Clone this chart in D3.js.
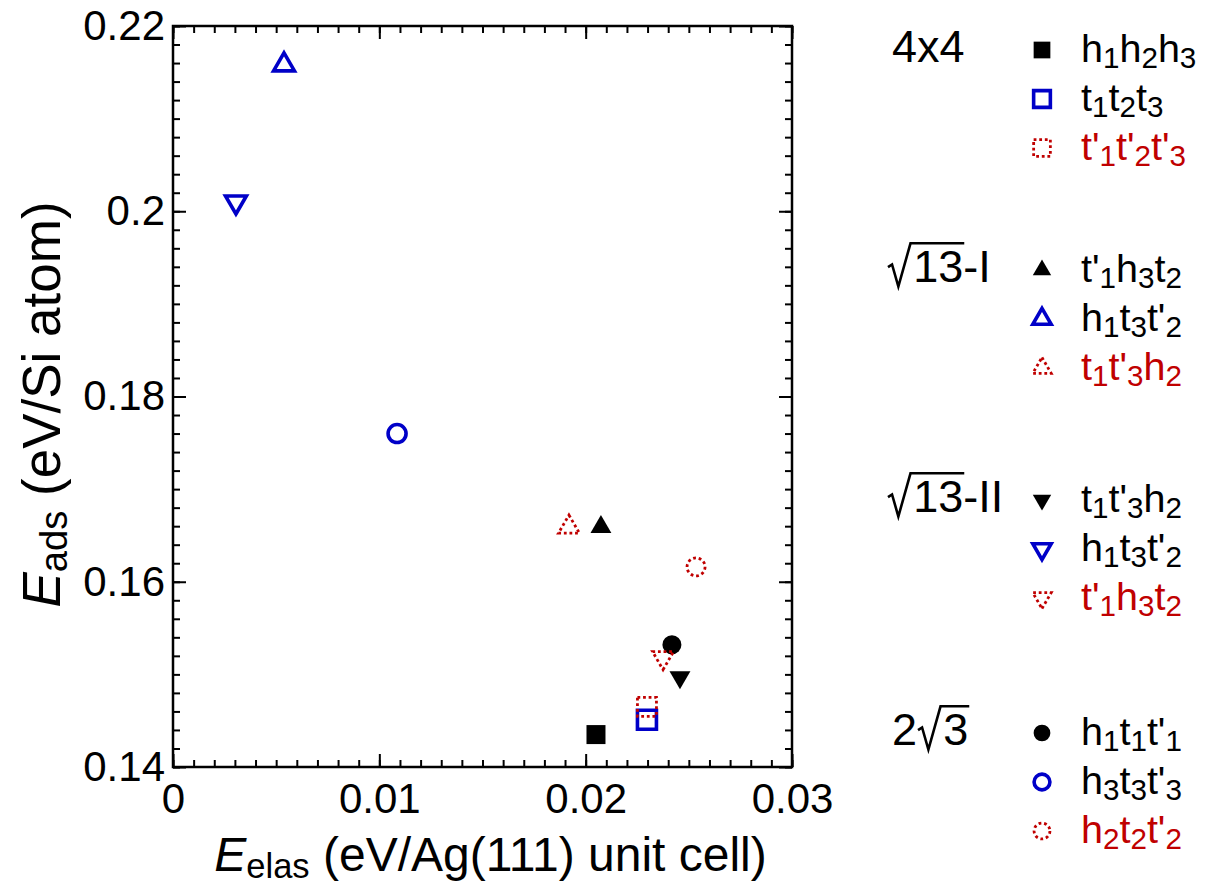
<!DOCTYPE html>
<html>
<head>
<meta charset="utf-8">
<script src="https://cdn.jsdelivr.net/npm/d3@7/dist/d3.min.js"></script>
<style>
  body { margin: 0; background: #fff; }
  svg { font-family: "Liberation Sans", Arial, sans-serif; }
</style>
</head>
<body>
<div id="chart"></div>
<script>
(function() {
  'use strict';

  // ---- data ----
  var groupLabels = ['4x4', '\u221A13-I', '\u221A13-II', '2\u221A3'];
  var seriesNames = [
    'h_1h_2h_3', 't_1t_2t_3', "t'_1t'_2t'_3",
    "t'_1h_3t_2", "h_1t_3t'_2", "t_1t'_3h_2",
    "t_1t'_3h_2", "h_1t_3t'_2", "t'_1h_3t_2",
    "h_1t_1t'_1", "h_3t_3t'_3", "h_2t_2t'_2"
  ];
  var seriesGroup = [0, 0, 0, 1, 1, 1, 2, 2, 2, 3, 3, 3];
  var seriesShape = ['square', 'square', 'square',
    'triUp', 'triUp', 'triUp',
    'triDown', 'triDown', 'triDown',
    'circle', 'circle', 'circle'];
  var seriesStyle = ['solid', 'open', 'dotted', 'solid', 'open', 'dotted',
    'solid', 'open', 'dotted', 'solid', 'open', 'dotted'];
  var elasValues = [0.0205, 0.02297, 0.02297, 0.02074, 0.00538, 0.01919,
    0.02457, 0.00305, 0.02375, 0.02418, 0.01086, 0.02535];
  var adsValues = [0.1435, 0.1451, 0.1465, 0.1659, 0.2158, 0.1659,
    0.1497, 0.2010, 0.1518, 0.1532, 0.1760, 0.1616];

  var xTicks = [0, 0.01, 0.02, 0.03];
  var yTicks = [0.14, 0.16, 0.18, 0.2, 0.22];
  var xLabel = ['E', 'elas', ' (eV/Ag(111) unit cell)'];
  var yLabel = ['E', 'ads', ' (eV/Si atom)'];

  var colors = { solid: '#000', open: '#0000c8', dotted: '#c00000' };
  var textColors = { solid: '#000', open: '#000', dotted: '#c00000' };

  var margin = { top: 26, left: 173 };
  var width = 619, height = 741;

  var svg = d3.select('#chart').append('svg')
    .attr('width', 1208)
    .attr('height', 888);

  var g = svg.append('g')
    .attr('transform', 'translate(' + margin.left + ',' + margin.top + ')');

  var x = d3.scaleLinear().domain([0, 0.03]).range([0, width]);
  var y = d3.scaleLinear().domain([0.14, 0.22]).range([height, 0]);

  var xMinor = d3.range(0, 31).map(function(i) { return i / 1000; });
  var yMinor = d3.range(0, 41).map(function(i) { return 0.14 + i * 0.002; });

  function fmt(d) {
    return d === 0 ? '0' : String(+d.toFixed(2));
  }

  function drawAxis(axis, tx, ty, cls) {
    var a = g.append('g')
      .attr('class', cls)
      .attr('transform', 'translate(' + tx + ',' + ty + ')')
      .call(axis);
    a.select('.domain').remove();
    a.selectAll('line').attr('stroke', '#000').attr('stroke-width', 2);
    return a;
  }
  // minor ticks, all four sides, pointing in
  drawAxis(d3.axisBottom(x).tickValues(xMinor).tickSize(-7).tickFormat(''), 0, height, 'minor');
  drawAxis(d3.axisTop(x).tickValues(xMinor).tickSize(-7).tickFormat(''), 0, 0, 'minor');
  drawAxis(d3.axisLeft(y).tickValues(yMinor).tickSize(-7).tickFormat(''), 0, 0, 'minor');
  drawAxis(d3.axisRight(y).tickValues(yMinor).tickSize(-7).tickFormat(''), width, 0, 'minor');

  drawAxis(d3.axisBottom(x).tickValues(xTicks).tickSize(-13).tickPadding(16).tickFormat(fmt), 0, height, 'x axis');
  drawAxis(d3.axisTop(x).tickValues(xTicks).tickSize(-13).tickFormat(''), 0, 0, 'x2');
  drawAxis(d3.axisLeft(y).tickValues(yTicks).tickSize(-13).tickPadding(8).tickFormat(fmt), 0, 0, 'y axis');
  drawAxis(d3.axisRight(y).tickValues(yTicks).tickSize(-13).tickFormat(''), width, 0, 'y2');

  g.selectAll('.axis text')
    .attr('font-family', '"Liberation Sans", Arial, sans-serif')
    .attr('font-size', 42)
    .attr('fill', '#000');

  g.append('rect')
    .attr('width', width)
    .attr('height', height)
    .attr('fill', 'none')
    .attr('stroke', '#000')
    .attr('stroke-width', 2.5);

  // axis titles
  function titleText(sel, parts, fs) {
    sel.append('tspan').attr('font-style', 'italic').text(parts[0]);
    sel.append('tspan').attr('font-size', fs * 0.72).attr('dy', fs * 0.14).text(parts[1]);
    sel.append('tspan').attr('dy', -fs * 0.14).text(parts[2]);
  }
  var xt = svg.append('text')
    .attr('x', margin.left + width / 2 + 8)
    .attr('y', 871)
    .attr('text-anchor', 'middle')
    .attr('font-size', 48)
    .style('white-space', 'pre');
  titleText(xt, xLabel, 48);

  var yt = svg.append('text')
    .attr('transform', 'translate(60,' + (margin.top + height / 2 + 8) + ') rotate(-90)')
    .attr('text-anchor', 'middle')
    .attr('font-size', 53)
    .style('white-space', 'pre');
  titleText(yt, yLabel, 53);

  // marker shapes
  function markerPath(shape, s) {
    if (shape === 'square') {
      return 'M' + (-s) + ',' + (-s) + 'H' + s + 'V' + s + 'H' + (-s) + 'Z';
    }
    var w = s * 1.1, h = s * 1.9;
    if (shape === 'triUp') {
      return 'M0,' + (-h * 2 / 3) + 'L' + w + ',' + (h / 3) + 'L' + (-w) + ',' + (h / 3) + 'Z';
    }
    if (shape === 'triDown') {
      return 'M0,' + (h * 2 / 3) + 'L' + w + ',' + (-h / 3) + 'L' + (-w) + ',' + (-h / 3) + 'Z';
    }
    return 'M' + s + ',0A' + s + ',' + s + ' 0 1,1 ' + (-s) + ',0A' + s + ',' + s + ' 0 1,1 ' + s + ',0Z';
  }

  function styleMarker(sel, style) {
    if (style === 'solid') {
      sel.attr('fill', colors.solid).attr('stroke', 'none');
    } else if (style === 'open') {
      sel.attr('fill', 'none').attr('stroke', colors.open).attr('stroke-width', 3.6);
    } else {
      sel.attr('fill', 'none').attr('stroke', colors.dotted).attr('stroke-width', 2.8)
        .attr('stroke-dasharray', '2.8,2.8');
    }
  }

  function markerSize(i, legend) {
    var base = 9.5;
    if (seriesShape[i] === 'circle' && seriesStyle[i] !== 'solid') base = 9;
    return legend ? base * 0.88 : base;
  }

  var order = d3.range(seriesNames.length).sort(function(a, b) {
    var r = { solid: 0, open: 1, dotted: 2 };
    return r[seriesStyle[a]] - r[seriesStyle[b]];
  });

  g.selectAll('.pt')
    .data(order)
    .enter().append('path')
    .attr('class', 'pt')
    .attr('transform', function(i) {
      return 'translate(' + x(elasValues[i]) + ',' + y(adsValues[i]) + ')';
    })
    .attr('d', function(i) { return markerPath(seriesShape[i], markerSize(i, false)); })
    .each(function(i) { styleMarker(d3.select(this), seriesStyle[i]); });

  // legend
  var groupBase = [62, 282, 512, 745];
  var rowStep = 49;
  var legX = 892, markX = 1042, textX = 1081;
  var gFs = 45, iFs = 39.5;

  groupLabels.forEach(function(lbl, gi) {
    var by = groupBase[gi];
    var parts = lbl.split('\u221A');
    var cx = legX;
    if (parts.length === 1) {
      svg.append('text').attr('x', cx).attr('y', by).attr('font-size', gFs).text(lbl);
      return;
    }
    if (parts[0]) {
      var pre = svg.append('text').attr('x', cx).attr('y', by).attr('font-size', gFs).text(parts[0]);
      cx += pre.node().getComputedTextLength() + 1;
    } else {
      cx -= 4;
    }
    var m = parts[1].match(/^(\d+)(.*)$/);
    var rad = m[1], post = m[2];
    var rw = gFs * 0.56;
    var radT = svg.append('text').attr('x', cx + rw).attr('y', by).attr('font-size', gFs).text(rad);
    var radW = radT.node().getComputedTextLength();
    var top = by - gFs * 0.86;
    svg.append('path')
      .attr('d', 'M' + cx + ',' + (by - gFs * 0.33) +
        'L' + (cx + gFs * 0.09) + ',' + (by - gFs * 0.39) +
        'L' + (cx + gFs * 0.23) + ',' + (by + gFs * 0.1) +
        'L' + (cx + gFs * 0.5) + ',' + top +
        'H' + (cx + rw + radW + 1))
      .attr('fill', 'none')
      .attr('stroke', '#000')
      .attr('stroke-width', 2.6)
      .attr('stroke-linejoin', 'miter');
    if (post) {
      svg.append('text').attr('x', cx + rw + radW).attr('y', by).attr('font-size', gFs).text(post);
    }
  });

  function richText(sel, str, fs) {
    var bits = str.split('_');
    sel.append('tspan').text(bits[0]);
    bits.slice(1).forEach(function(b) {
      sel.append('tspan').attr('font-size', fs * 0.75).attr('dy', fs * 0.16).text(b.charAt(0));
      if (b.length > 1) sel.append('tspan').attr('dy', -fs * 0.16).text(b.slice(1));
    });
  }

  seriesNames.forEach(function(name, i) {
    var gi = seriesGroup[i];
    var k = i - seriesGroup.indexOf(gi);
    var by = groupBase[gi] + k * rowStep;
    var mk = svg.append('path')
      .attr('transform', 'translate(' + markX + ',' + (by - 12) + ')')
      .attr('d', markerPath(seriesShape[i], markerSize(i, true)));
    styleMarker(mk, seriesStyle[i]);
    var t = svg.append('text')
      .attr('x', textX)
      .attr('y', by)
      .attr('font-size', iFs)
      .attr('fill', textColors[seriesStyle[i]]);
    richText(t, name, iFs);
  });
})();
</script>
</body>
</html>
